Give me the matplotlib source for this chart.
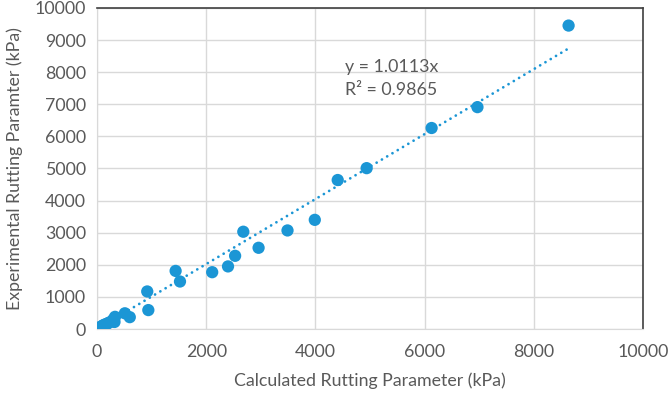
import numpy as np
import matplotlib.pyplot as plt

plt.rcParams['font.family'] = ['Lato', 'DejaVu Sans']

# calculated vs experimental rutting parameter (kPa)
calc = [10, 30, 50, 70, 90, 110, 130, 160, 190, 220, 280, 300, 330, 320,
        510, 600, 920, 940, 1440, 1520, 2110, 2400, 2530, 2680, 2960,
        3490, 3990, 4410, 4940, 6130, 6970, 8640]
expt = [10, 30, 50, 70, 90, 110, 130, 150, 170, 200, 250, 300, 380, 220,
        490, 370, 1170, 590, 1810, 1480, 1770, 1950, 2280, 3030, 2530,
        3070, 3400, 4640, 5010, 6260, 6910, 9450]
slope = 1.0113
r2 = 0.9865

blue = '#1b96d5'
txt = '#595959'

fig = plt.figure(figsize=(6.71, 3.95), dpi=100)
ax = fig.add_axes([0.1446, 0.167, 0.8134, 0.813])

xs = np.array(calc, dtype=float)
fit_x = np.array([0, xs.max()])
ax.plot(fit_x, slope * fit_x, color=blue, lw=2.0, linestyle=(0, (0.01, 2.2)),
        dash_capstyle='round', zorder=2)
ax.scatter(calc, expt, s=78, color=blue, edgecolor='none', zorder=3)

ax.text(4540, 8160, 'y = 1.0113x', fontsize=12.8, color=txt, va='center')
ax.text(4540, 7440, 'R² = %.4f' % r2, fontsize=12.8, color=txt, va='center')

ax.set_xlim(0, 10000)
ax.set_ylim(0, 10000)
ax.set_xticks(np.arange(0, 10001, 2000))
ax.set_yticks(np.arange(0, 10001, 1000))
ax.grid(True, color='#d9d9d9', lw=1)
ax.set_axisbelow(True)
ax.tick_params(length=0, labelsize=12.8, labelcolor=txt, pad=8)
ax.tick_params(axis='x', pad=11)

for s in ['left', 'bottom']:
    ax.spines[s].set_color('#d9d9d9')
for s in ['top', 'right']:
    ax.spines[s].set_color('#404040')
    ax.spines[s].set_linewidth(1.2)

ax.set_xlabel('Calculated Rutting Parameter (kPa)', fontsize=12.8, color=txt, labelpad=9)
ax.set_ylabel('Experimental Rutting Paramter (kPa)', fontsize=12.8, color=txt, labelpad=8)

fig.savefig('out.png', dpi=100)
